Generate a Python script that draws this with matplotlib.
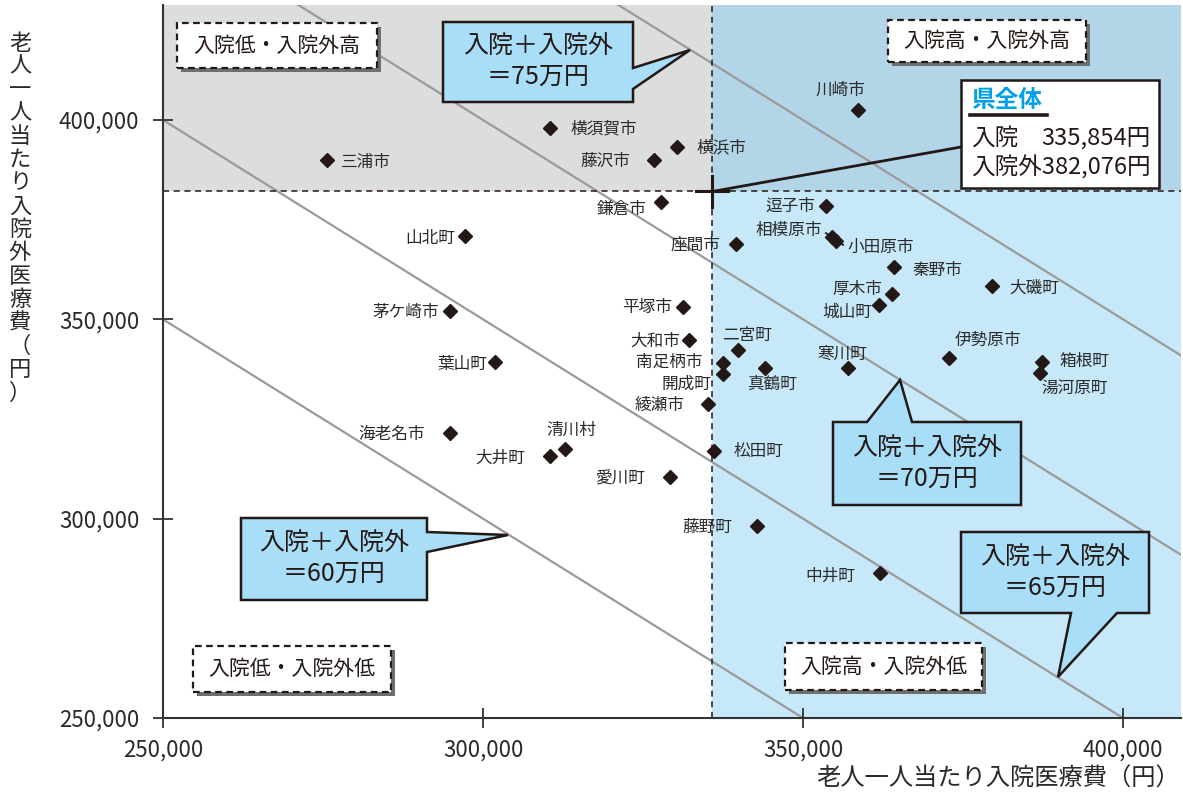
import matplotlib
matplotlib.use("Agg")
import matplotlib.pyplot as plt
from matplotlib.patches import Rectangle, Polygon, ConnectionPatch
from matplotlib.lines import Line2D

plt.rcParams['font.family'] = ['Noto Sans CJK JP', 'DejaVu Sans']

# ---- data -------------------------------------------------------------
municipalities = [
    "川崎市", "横須賀市", "横浜市", "藤沢市", "三浦市", "鎌倉市", "逗子市",
    "山北町", "座間市", "相模原市", "小田原市", "秦野市", "大磯町", "厚木市",
    "城山町", "平塚市", "茅ケ崎市", "大和市", "二宮町", "南足柄市", "開成町",
    "真鶴町", "寒川町", "綾瀬市", "伊勢原市", "箱根町", "湯河原町", "葉山町",
    "海老名市", "清川村", "大井町", "松田町", "愛川町", "藤野町", "中井町",
]
inpatient = [
    358600, 310500, 330300, 326700, 275600, 327800, 353600,
    297200, 339500, 354500, 355200, 364200, 379500, 363900,
    361900, 331250, 294800, 332200, 339800, 337500, 337500,
    344100, 357000, 335200, 372800, 387300, 387000, 301900,
    294800, 312800, 310500, 336100, 329200, 342800, 362000,
]
outpatient = [
    402500, 398000, 393200, 390000, 390000, 379400, 378400,
    370900, 368900, 370600, 369600, 363100, 358400, 356400,
    353600, 353100, 352100, 344800, 342300, 339000, 336300,
    337800, 337800, 328800, 340300, 339300, 336500, 339300,
    321500, 317500, 315700, 317000, 310500, 298200, 286400,
]
pref_inpatient = 335854
pref_outpatient = 382076
total_levels = [600000, 650000, 700000, 750000]
x_ticks = [250000, 300000, 350000, 400000]
y_ticks = [250000, 300000, 350000, 400000]

# label placement around each marker: (dx px, dy px, alignment)
label_offsets = {
    "川崎市": (-18, 20, "center"), "横須賀市": (20, -1, "left"),
    "横浜市": (20, -1, "left"), "藤沢市": (-24, -1, "right"),
    "三浦市": (14, -3, "left"), "鎌倉市": (-14, -7, "right"),
    "逗子市": (-11, 0, "right"), "山北町": (-10, -2, "right"),
    "座間市": (-15, -1, "right"), "相模原市": (-10, 7, "right"),
    "小田原市": (11, -6, "left"), "秦野市": (19, -3, "left"),
    "大磯町": (18, -2, "left"), "厚木市": (-10, 4, "right"),
    "城山町": (-7, -7, "right"), "平塚市": (-11, -1, "right"),
    "茅ケ崎市": (-11, -2, "right"), "大和市": (-9, -1, "right"),
    "二宮町": (9, 15, "center"), "南足柄市": (-21, 1, "right"),
    "開成町": (-12, -10, "right"), "真鶴町": (7, -16, "center"),
    "寒川町": (-5, 14, "center"), "綾瀬市": (-24, -2, "right"),
    "伊勢原市": (39, 18, "center"), "箱根町": (18, 1, "left"),
    "湯河原町": (35, -15, "center"), "葉山町": (-8, -3, "right"),
    "海老名市": (-25, -2, "right"), "清川村": (6, 19, "center"),
    "大井町": (-25, -2, "right"), "松田町": (20, -1, "left"),
    "愛川町": (-25, -2, "right"), "藤野町": (-25, -2, "right"),
    "中井町": (-25, -3, "right"),
}
leader_names = {"相模原市", "小田原市"}

# ---- figure -----------------------------------------------------------
W, H = 1183, 799
fig = plt.figure(figsize=(W / 100, H / 100), dpi=100)


def fp(px, py):
    """Figure-fraction coordinates from pixel position measured from top-left."""
    return (px / W, 1 - py / H)


ax = fig.add_axes([163 / W, (H - 718) / H, (1181 - 163) / W, (718 - 5) / H])
xmin, xmax = 250000, 409062
ymin, ymax = 250000, 428846
ax.set_xlim(xmin, xmax)
ax.set_ylim(ymin, ymax)

ink = "#231815"

# quadrant shading
ax.add_patch(Rectangle((xmin, pref_outpatient), pref_inpatient - xmin,
                       ymax - pref_outpatient, facecolor="#dcdddd",
                       edgecolor="none", zorder=0))
ax.add_patch(Rectangle((pref_inpatient, pref_outpatient), xmax - pref_inpatient,
                       ymax - pref_outpatient, facecolor="#b2d6e8",
                       edgecolor="none", zorder=0))
ax.add_patch(Rectangle((pref_inpatient, ymin), xmax - pref_inpatient,
                       pref_outpatient - ymin, facecolor="#c6e8f9",
                       edgecolor="none", zorder=0))

# iso-total lines (inpatient + outpatient = constant)
for level in total_levels:
    ax.plot([xmin, xmax], [level - xmin, level - xmax], color="#9a9a9a",
            lw=1.6, zorder=1)

# prefecture-wide reference lines
ax.axvline(pref_inpatient, color=ink, lw=1.1, ls=(0, (4, 3)), zorder=2)
ax.axhline(pref_outpatient, color=ink, lw=1.1, ls=(0, (4, 3)), zorder=2)
ax.plot([pref_inpatient - 2500, pref_inpatient + 2500],
        [pref_outpatient, pref_outpatient], color=ink, lw=2.2, zorder=3)
ax.plot([pref_inpatient, pref_inpatient],
        [pref_outpatient - 4000, pref_outpatient + 4000], color=ink, lw=2.2, zorder=3)

# municipalities
ax.plot(inpatient, outpatient, ls="none", marker="D", ms=7.0, color=ink, zorder=5)
for name, xv, yv in zip(municipalities, inpatient, outpatient):
    dx, dy, ha = label_offsets[name]
    kw = {}
    if name in leader_names:
        relx = 1.0 if ha == "right" else 0.0
        kw["arrowprops"] = dict(arrowstyle="-", color=ink, lw=1.3,
                                shrinkA=1, shrinkB=2, relpos=(relx, 0.5))
    ax.annotate(name, (xv, yv), xytext=(dx, dy), textcoords="offset pixels",
                ha=ha, va="center", fontsize=12, color="#2a2a2a", zorder=6, **kw)

# axes styling
for side in ("top", "right"):
    ax.spines[side].set_visible(False)
for side in ("left", "bottom"):
    ax.spines[side].set_linewidth(1.5)
    ax.spines[side].set_color("#333333")
    ax.spines[side].set_zorder(7)
ax.set_xticks(x_ticks)
ax.set_yticks(y_ticks)
ax.set_xticklabels([f"{v:,}" for v in x_ticks])
ax.set_yticklabels([f"{v:,}" for v in y_ticks])
ax.tick_params(direction="inout", length=14, width=1.3, color="#333333",
               labelsize=16, labelcolor="#2a2a2a")
ax.tick_params(axis="y", pad=10)
ax.tick_params(axis="x", pad=8)

# axis titles
fig.text(*fp(1180, 779), "老人一人当たり入院医療費（円）", ha="right", va="center",
         fontsize=17.5, color="#2a2a2a")
ylab = "老人一人当たり入院外医療費（円）"
for i, ch in enumerate(ylab):
    fig.text(*fp(20, 43 + i * 23.33), ch, ha="center", va="center",
             fontsize=16, color="#2a2a2a")


# ---- callouts ---------------------------------------------------------
def callout(x0, y0, x1, y1, side, a, tip, b, lines):
    tl, tr, br, bl = (x0, y0), (x1, y0), (x1, y1), (x0, y1)
    if side == "right":
        verts = [tl, tr, (x1, a), tip, (x1, b), br, bl]
    elif side == "top":
        verts = [tl, (a, y0), tip, (b, y0), tr, br, bl]
    else:  # bottom, traversed right to left
        verts = [tl, tr, br, (b, y1), tip, (a, y1), bl]
    poly = Polygon([fp(*v) for v in verts], closed=True, transform=fig.transFigure,
                   facecolor="#a8def7", edgecolor=ink, lw=1.8, joinstyle="miter",
                   zorder=10)
    fig.add_artist(poly)
    cx = (x0 + x1) / 2
    cy = (y0 + y1) / 2
    fig.text(*fp(cx, cy - 15), lines[0], ha="center", va="center", fontsize=18,
             color=ink, zorder=11)
    fig.text(*fp(cx, cy + 15), lines[1], ha="center", va="center", fontsize=18,
             color=ink, zorder=11)


callout(443, 22, 633, 102, "right", 68, (690, 50), 89, ["入院＋入院外", "＝75万円"])
callout(241, 518, 427, 600, "right", 532, (508, 535), 552, ["入院＋入院外", "＝60万円"])
callout(833, 422, 1021, 505, "top", 867, (900, 380), 912, ["入院＋入院外", "＝70万円"])
callout(961, 532, 1149, 613, "bottom", 1071, (1058, 677), 1117, ["入院＋入院外", "＝65万円"])


# ---- quadrant captions ------------------------------------------------
def quadrant_box(x0, y0, x1, y1, text):
    shadow = Rectangle(fp(x0 + 4, y1 + 4), (x1 - x0) / W, (y1 - y0) / H,
                       transform=fig.transFigure, facecolor="#6f6f6f",
                       edgecolor="none", zorder=8)
    box = Rectangle(fp(x0, y1), (x1 - x0) / W, (y1 - y0) / H,
                    transform=fig.transFigure, facecolor="white",
                    edgecolor=ink, lw=1.6, ls=(0, (3, 2)), zorder=9)
    fig.add_artist(shadow)
    fig.add_artist(box)
    fig.text(*fp((x0 + x1) / 2, (y0 + y1) / 2), text, ha="center", va="center",
             fontsize=15, color=ink, zorder=10)


quadrant_box(177, 23, 377, 68, "入院低・入院外高")
quadrant_box(888, 20, 1086, 62, "入院高・入院外高")
quadrant_box(193, 646, 391, 692, "入院低・入院外低")
quadrant_box(785, 643, 982, 690, "入院高・入院外低")

# ---- prefecture summary box -----------------------------------------------
conn = ConnectionPatch(xyA=(pref_inpatient, pref_outpatient), coordsA=ax.transData,
                       xyB=fp(961, 147), coordsB=fig.transFigure,
                       color=ink, lw=2.0, zorder=9)
fig.add_artist(conn)
summary = Rectangle(fp(961, 188), (1159 - 961) / W, (188 - 80) / H,
                    transform=fig.transFigure, facecolor="white",
                    edgecolor=ink, lw=1.8, zorder=10)
fig.add_artist(summary)
fig.text(*fp(971, 100), "県全体", ha="left", va="center", fontsize=17,
         fontweight="bold", color="#00a0e9", zorder=11)
fig.add_artist(Line2D([970 / W, 1047 / W], [1 - 115 / H, 1 - 115 / H],
                      transform=fig.transFigure, color=ink, lw=2.6, zorder=11))
line2 = fig.text(*fp(971, 168), f"入院外{pref_outpatient:,}円", ha="left", va="center",
                 fontsize=17, color=ink, zorder=11)
fig.canvas.draw()
right_edge = line2.get_window_extent().x1 / W
fig.text(*fp(971, 138), "入院", ha="left", va="center", fontsize=17, color=ink, zorder=11)
fig.text(right_edge, 1 - 138 / H, f"{pref_inpatient:,}円", ha="right", va="center",
         fontsize=17, color=ink, zorder=11)

fig.savefig("out.png", dpi=100)
